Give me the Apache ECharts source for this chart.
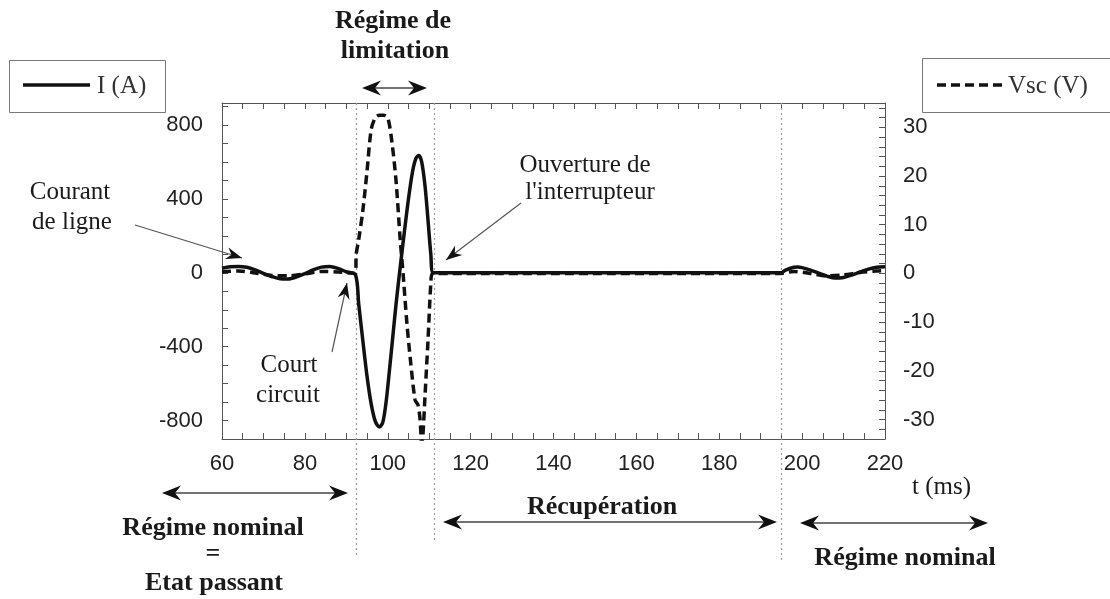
<!DOCTYPE html>
<html><head><meta charset="utf-8">
<script src="https://cdn.jsdelivr.net/npm/echarts@6/dist/echarts.min.js"></script>
<style>html,body{margin:0;padding:0;background:#fff}#c{width:1110px;height:599px}</style>
</head><body><div id="c"></div>
<script>
// ---- data ----
const tCurrent = [60,62,64,66,68,70,72,74,76,78,80,82,84,86,88,90,92.2,93,94,95,96,97,98,98.8,99.6,100.4,101.2,102,103,104,105,106,106.8,107.5,108.2,109,109.7,110.4,111,194.8,196,198,199,200,202,204,206,208,210,212,214,216,218,220];
const current  = [25,33,35,30,16,-3,-20,-32,-33,-22,-4,16,31,35,24,6,-10,-170,-370,-560,-710,-805,-835,-810,-700,-530,-350,-170,30,220,400,550,620,635,600,470,290,100,0,0,15,30,32,28,15,-2,-18,-28,-25,-12,5,20,30,33];
const tVoltage = [60,64,68,72,76,80,84,88,92.2,92.4,93,94,95,96,97,98,99,100,101,102,103,103.7,104.6,105.5,106.6,107.3,107.8,108.2,108.5,109,109.7,110.4,110.8,194.8,198,202,206,210,214,218,220];
const voltage  = [0.3,0.5,0.1,-0.4,-0.5,-0.1,0.4,0.3,0,4,7,13,21,29.5,32,32.5,32.5,32,27,19,7,0,-10,-18,-26,-27,-30,-35,-33,-25,-14,-2,0,0,0.4,0,-0.5,-0.3,0.2,0.5,0.6];
const xTickLabels = [60,80,100,120,140,160,180,200,220];
const iTickLabels = [-800,-400,0,400,800];
const vTickLabels = [-30,-20,-10,0,10,20,30];
const phaseBounds = [92.3, 111.2, 194.8];
const seriesNames = ['I (A)', 'Vsc (V)'];

const zip = (a, b) => a.map((t, i) => [t, b[i]]);
const SANS = '"Liberation Sans", Arial, sans-serif';
const SERIF = '"Liberation Serif", "Times New Roman", serif';
const axisCol = '#555';
const DASH = [9, 5];

const baseAxis = {
  axisLine: {show: true, onZero: false, lineStyle: {color: axisCol, width: 1}},
  axisTick: {show: true, inside: true, length: 6, lineStyle: {color: axisCol, width: 1}},
  splitLine: {show: false}
};

const option = {
  animation: false,
  backgroundColor: '#fff',
  grid: {left: 222, right: 225, top: 103, bottom: 160, containLabel: false},
  xAxis: [
    Object.assign({}, baseAxis, {type: 'value', position: 'bottom', min: 60, max: 220, interval: 5,
      axisLabel: {margin: 14, fontSize: 22, fontFamily: SANS, color: '#222',
        formatter: v => xTickLabels.includes(v) ? String(v) : ''}}),
    Object.assign({}, baseAxis, {type: 'value', position: 'top', min: 60, max: 220, interval: 5,
      axisLabel: {show: false}})
  ],
  yAxis: [
    Object.assign({}, baseAxis, {type: 'value', position: 'left', min: -900, max: 920, interval: 100,
      axisLabel: {margin: 19, fontSize: 22, fontFamily: SANS, color: '#222',
        formatter: v => iTickLabels.includes(v) ? String(v) : ''}}),
    Object.assign({}, baseAxis, {type: 'value', position: 'right', min: -34, max: 35, interval: 2,
      alignTicks: false,
      axisLabel: {margin: 18, fontSize: 22, fontFamily: SANS, color: '#222',
        formatter: v => vTickLabels.includes(v) ? String(v) : ''}})
  ],
  series: [
    {name: seriesNames[0], type: 'line', xAxisIndex: 0, yAxisIndex: 0, data: zip(tCurrent, current),
     symbol: 'none', smooth: 0.3, clip: true, lineStyle: {color: '#111', width: 3.5}, z: 3},
    {name: seriesNames[1], type: 'line', xAxisIndex: 0, yAxisIndex: 1, data: zip(tVoltage, voltage),
     symbol: 'none', smooth: 0.3, clip: true, lineStyle: {color: '#111', width: 3.5, type: DASH}, z: 4}
  ]
};

const chart = echarts.init(document.getElementById('c'), null, {renderer: 'canvas'});
chart.setOption(option);

// ---- annotations ----
const G = [];
function txt(s, x, y, font, fill, align) {
  align = align || 'center';
  G.push({type: 'text', z: 50, style: {text: s, x: x, y: y, font: font, fill: fill || '#1a1a1a',
    align: align, verticalAlign: 'middle', textAlign: align, textVerticalAlign: 'middle'}});
}
function head(tx, ty, fx, fy, L, W, N) {
  const dx = tx - fx, dy = ty - fy, len = Math.hypot(dx, dy);
  const ux = dx / len, uy = dy / len, nx = -uy, ny = ux;
  G.push({type: 'polygon', z: 51, shape: {points: [
    [tx, ty],
    [tx - L * ux + W * nx, ty - L * uy + W * ny],
    [tx - (L - N) * ux, ty - (L - N) * uy],
    [tx - L * ux - W * nx, ty - L * uy - W * ny]]},
    style: {fill: '#111'}});
}
function line(x1, y1, x2, y2, col, w, dash) {
  const st = {stroke: col, lineWidth: w};
  if (dash) st.lineDash = dash;
  G.push({type: 'line', z: 49, shape: {x1: x1, y1: y1, x2: x2, y2: y2}, style: st});
}
function dblArrow(x1, x2, y) {
  line(x1 + 6, y, x2 - 6, y, '#444', 1.3);
  head(x1, y, x2, y, 19, 7.5, 6);
  head(x2, y, x1, y, 19, 7.5, 6);
}
function arrow(fx, fy, tx, ty) {
  line(fx, fy, tx, ty, '#555', 1.2);
  head(tx, ty, fx, fy, 16, 6, 5);
}
function box(x, y, w, h) {
  G.push({type: 'rect', z: 48, shape: {x: x + 0.5, y: y + 0.5, width: w, height: h},
    style: {fill: '#fff', stroke: '#777', lineWidth: 1}});
}

// vertical dotted separators, placed through the x scale
const yTop = chart.convertToPixel({yAxisIndex: 0}, 920);
const dotEnds = [558, 540, 562];
phaseBounds.forEach((t, i) => {
  const x = Math.round(chart.convertToPixel({xAxisIndex: 0}, t)) + 0.5;
  G.push({type: 'line', z: 1, shape: {x1: x, y1: yTop, x2: x, y2: dotEnds[i]},
    style: {stroke: '#999', lineWidth: 1.2, lineDash: [2, 3]}});
});

const BOLD = 'bold 26px ' + SERIF;
const REG = '25px ' + SERIF;

// legend boxes
box(9, 60, 156, 52);
line(23, 85, 90, 85, '#111', 3.5);
txt(seriesNames[0], 97, 86, REG, '#333', 'left');
box(922, 58, 200, 54);
line(937, 85, 1003, 85, '#111', 3.5, DASH);
txt(seriesNames[1], 1008, 86, REG, '#333', 'left');

txt('Régime de', 393, 21, BOLD);
txt('limitation', 395, 51, BOLD);
dblArrow(362, 427, 88);

txt('Courant', 70, 192, REG);
txt('de ligne', 72, 222, REG);
arrow(135, 225, 242, 258);

txt('Court', 289, 365, REG);
txt('circuit', 288, 395, REG);
arrow(332, 352, 347, 283);

txt('Ouverture de', 585, 165, REG);
txt("l'interrupteur", 590, 192, REG);
arrow(521, 203, 446, 260);

txt('t (ms)', 912, 487, REG, '#1a1a1a', 'left');

dblArrow(162, 348, 493);
txt('Régime nominal', 213, 528, BOLD);
txt('=', 213, 554, BOLD);
txt('Etat passant', 214, 583, BOLD);

txt('Récupération', 602, 507, BOLD);
dblArrow(443, 777, 522);

dblArrow(800, 988, 523);
txt('Régime nominal', 905, 558, BOLD);

chart.setOption({graphic: {elements: G}});
</script>
</body></html>
